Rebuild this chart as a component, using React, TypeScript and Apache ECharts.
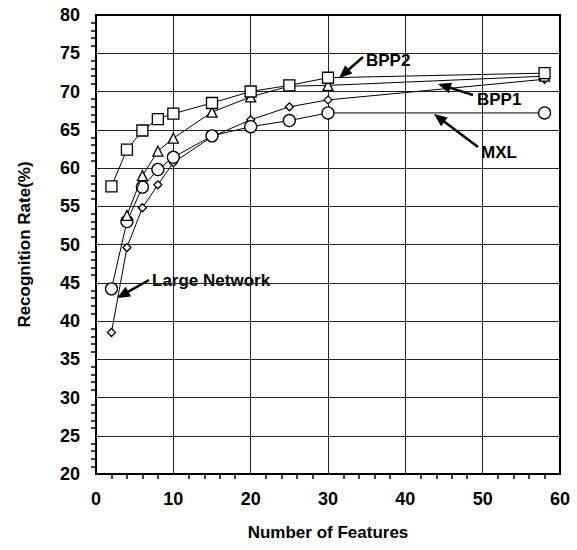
import React, { useEffect, useRef } from "react";
import * as echarts from "echarts";

const featureCounts = [2, 4, 6, 8, 10, 15, 20, 25, 30, 58];
const bpp1Counts = [4, 6, 8, 10, 15, 20, 25, 30, 58];
const bpp2Rates = [57.6, 62.4, 64.9, 66.4, 67.1, 68.5, 70.0, 70.8, 71.8, 72.4];
const bpp1Rates = [53.8, 59.0, 62.2, 63.9, 67.3, 69.3, 70.7, 70.8, 72.0];
const mxlRates = [44.2, 53.0, 57.5, 59.8, 61.4, 64.2, 65.4, 66.2, 67.2, 67.2];
const largeNetRates = [38.5, 49.6, 54.8, 57.8, 60.7, 64.1, 66.3, 68.0, 68.9, 71.6];

const xTicks = [0, 10, 20, 30, 40, 50, 60];
const yTicks = [20, 25, 30, 35, 40, 45, 50, 55, 60, 65, 70, 75, 80];

const FONT = "'Liberation Sans', Arial, Helvetica, sans-serif";

function arrow(x1: number, y1: number, x2: number, y2: number) {
  const dx = x2 - x1;
  const dy = y2 - y1;
  const len = Math.sqrt(dx * dx + dy * dy);
  const ux = dx / len;
  const uy = dy / len;
  const headL = 13;
  const headW = 5.5;
  const bx = x2 - ux * headL;
  const by = y2 - uy * headL;
  return [
    {
      type: "line",
      shape: { x1, y1, x2: bx, y2: by },
      style: { stroke: "#000", lineWidth: 2.5 },
    },
    {
      type: "polygon",
      shape: {
        points: [
          [x2, y2],
          [bx - uy * headW, by + ux * headW],
          [bx + uy * headW, by - ux * headW],
        ],
      },
      style: { fill: "#000" },
    },
  ];
}

function label(text: string, x: number, y: number) {
  return {
    type: "text",
    x,
    y,
    style: {
      text,
      fill: "#000",
      font: `bold 17px ${FONT}`,
      textVerticalAlign: "middle",
      textAlign: "left",
    },
  };
}

export default function App() {
  const ref = useRef<HTMLDivElement>(null);

  useEffect(() => {
    if (!ref.current) return;
    const chart = echarts.init(ref.current, undefined, { renderer: "svg" });
    const lineStyle = { color: "#000", width: 1 };
    const itemStyle = { color: "#fff", borderColor: "#000", borderWidth: 1.3 };
    const pair = (xs: number[], ys: number[]) => xs.map((x, i) => [x, ys[i]]);

    chart.setOption({
      animation: false,
      backgroundColor: "#fff",
      grid: { left: 96, top: 15, width: 464, height: 459, containLabel: false },
      xAxis: {
        type: "value",
        min: xTicks[0],
        max: xTicks[xTicks.length - 1],
        interval: 10,
        name: "Number of Features",
        nameLocation: "middle",
        nameGap: 50,
        nameTextStyle: { fontFamily: FONT, fontSize: 17, color: "#000", fontWeight: "bold" },
        axisLine: { show: true, lineStyle: { color: "#000", width: 2 } },
        axisTick: { show: false },
        minorTick: { show: true, splitNumber: 5, length: 5, lineStyle: { color: "#000", width: 1.5 } },
        axisLabel: {
          fontFamily: FONT,
          fontSize: 18,
          fontWeight: "bold",
          color: "#000",
          margin: 16,
        },
        splitLine: { show: true, lineStyle: { color: "#222", width: 1 } },
      },
      yAxis: {
        type: "value",
        min: yTicks[0],
        max: yTicks[yTicks.length - 1],
        interval: 5,
        name: "Recognition Rate(%)",
        nameLocation: "middle",
        nameGap: 63,
        nameTextStyle: { fontFamily: FONT, fontSize: 17, color: "#000", fontWeight: "bold" },
        axisLine: { show: true, lineStyle: { color: "#000", width: 2 } },
        axisTick: { show: false },
        minorTick: { show: true, splitNumber: 5, length: 5, lineStyle: { color: "#000", width: 1.5 } },
        axisLabel: {
          fontFamily: FONT,
          fontSize: 18,
          fontWeight: "bold",
          color: "#000",
          margin: 16,
        },
        splitLine: { show: true, lineStyle: { color: "#222", width: 1 } },
      },
      graphic: [
        {
          type: "rect",
          shape: { x: 96, y: 15, width: 464, height: 459 },
          style: { fill: "none", stroke: "#000", lineWidth: 2 },
          z: 1,
        },
        ...arrow(363, 57, 339, 78),
        label("BPP2", 366, 60),
        ...arrow(473, 95, 438, 84),
        label("BPP1", 477, 99),
        ...arrow(478, 147, 434, 114),
        label("MXL", 481, 152),
        ...arrow(149, 280, 117, 298),
        label("Large Network", 152, 280),
      ],
      series: [
        {
          name: "BPP2",
          type: "line",
          data: pair(featureCounts, bpp2Rates),
          symbol: "rect",
          symbolSize: 11,
          lineStyle,
          itemStyle,
          z: 5,
        },
        {
          name: "BPP1",
          type: "line",
          data: pair(bpp1Counts, bpp1Rates),
          symbol: "triangle",
          symbolSize: 10,
          lineStyle,
          itemStyle,
          z: 4,
        },
        {
          name: "MXL",
          type: "line",
          data: pair(featureCounts, mxlRates),
          symbol: "circle",
          symbolSize: 12,
          lineStyle,
          itemStyle,
          z: 3,
        },
        {
          name: "Large Network",
          type: "line",
          data: pair(featureCounts, largeNetRates),
          symbol: "diamond",
          symbolSize: 8,
          lineStyle,
          itemStyle,
          z: 2,
        },
      ],
    });
    return () => chart.dispose();
  }, []);

  return (
    <div
      ref={ref}
      style={{ position: "fixed", left: 0, top: 0, width: 577, height: 550, background: "#fff" }}
    />
  );
}
